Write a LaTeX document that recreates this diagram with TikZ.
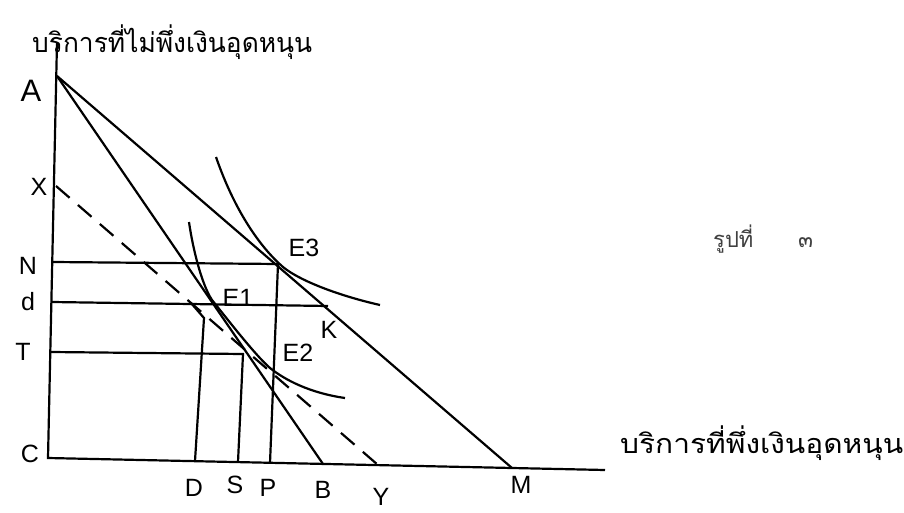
\documentclass[tikz,border=0pt]{standalone}
\usepackage{fontspec}
\setmainfont{Liberation Sans}
\newfontfamily\thaifont[Script=Thai]{Loma}
\begin{document}
\begin{tikzpicture}[x=1pt,y=-1pt,
  ln/.style={line width=2.2pt,black},
  dsh/.style={line width=2.2pt,black,dash pattern=on 18pt off 11pt},
  lbl/.style={inner sep=0pt,font=\fontsize{25}{25}\selectfont},
  thai/.style={inner sep=0pt,font=\thaifont\fontsize{27}{27}\selectfont}]
\useasboundingbox (0,0) rectangle (904,513);
% axes
\coordinate (top) at (57,42);
\coordinate (C) at (48,458);
\coordinate (xend) at (605,470);
\draw[ln] (top) -- (C) -- (xend);
% key points
\coordinate (A) at (57,76);
\coordinate (B) at (323,464);
\coordinate (M) at (512,468);
\coordinate (X) at (56,186);
\coordinate (Y) at (378,465);
\coordinate (Npt) at (53,262);
\coordinate (Ncorner) at (278,264);
\coordinate (P) at (270,463);
\coordinate (dpt) at (52,302);
\coordinate (K) at (328,306);
\coordinate (Tpt) at (51,352);
\coordinate (Tcorner) at (243,354);
\coordinate (S) at (238,462);
\coordinate (D) at (195,461);
\coordinate (Dtop) at (204,318);
\coordinate (Dkink) at (191,303);
\coordinate (E1) at (212,300);
\coordinate (E2) at (270,368);
\coordinate (E3) at (283,267);
% budget lines
\draw[ln] (A) -- (M);
\draw[ln] (A) -- (B);
\draw[dsh] (X) -- (Y);
% rectangles
\draw[ln] (Npt) -- (Ncorner) -- (P);
\draw[ln] (dpt) -- (K);
\draw[ln] (Tpt) -- (Tcorner) -- (S);
\draw[ln] (D) -- (Dtop) -- (Dkink);
% indifference curves
\draw[ln] (216,157) .. controls (235,212) and (261,248) .. (E3)
  .. controls (300,281) and (340,296) .. (380,305);
\draw[ln] (189,222) .. controls (193,250) and (202,285) .. (E1)
  .. controls (228,320) and (256,356) .. (E2)
  .. controls (285,380) and (310,393) .. (345,398);
% labels
\node[lbl,font=\fontsize{31}{31}\selectfont] (lA) at (31,91) {A};
\node[lbl] (lX) at (39,187) {X};
\node[lbl] (lN) at (28,266) {N};
\node[lbl] (ld) at (28,302) {d};
\node[lbl] (lT) at (23,352) {T};
\node[lbl] (lC) at (30,454) {C};
\node[lbl] (lD) at (194,488) {D};
\node[lbl] (lS) at (235,485) {S};
\node[lbl] (lP) at (268,488) {P};
\node[lbl] (lB) at (323,490) {B};
\node[lbl] (lY) at (381,497) {Y};
\node[lbl] (lM) at (521,485) {M};
\node[lbl] (lE3) at (304,248) {E3};
\node[lbl] (lE1) at (238,298) {E1};
\node[lbl] (lE2) at (298,353) {E2};
\node[lbl] (lK) at (329,330) {K};
\node[thai,anchor=base west] (ty) at (32,53) {\resizebox{280pt}{\height}{บริการที่ไม่พึ่งเงินอุดหนุน}};
\node[thai,anchor=base west] (tx) at (620,453) {\resizebox{283pt}{\height}{บริการที่พึ่งเงินอุดหนุน}};
\node[thai,anchor=base west,text=black!75,font=\thaifont\fontsize{22}{22}\selectfont] (fig) at (713,247) {รูปที่};
\node[thai,anchor=base west,text=black!75,font=\thaifont\fontsize{22}{22}\selectfont] (fignum) at (798,247) {๓};
\end{tikzpicture}
\end{document}
